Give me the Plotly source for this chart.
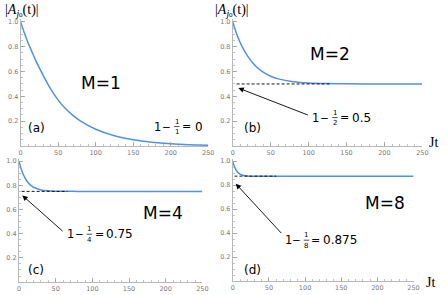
import plotly.graph_objects as go

W, H = 447, 295

# ---- data ----
M_values = [1, 2, 4, 8]
panel_tags = ["(a)", "(b)", "(c)", "(d)"]
eq_values = ["0", "0.5", "0.75", "0.875"]

t_M1 = [0, 5, 10, 15, 20, 30, 40, 50, 60, 70, 80, 100, 125, 150, 175, 200, 225, 250]
y_M1 = [1.0, 0.91, 0.83, 0.76, 0.69, 0.57, 0.46, 0.37, 0.30, 0.245, 0.20, 0.135, 0.082, 0.05, 0.03, 0.018, 0.011, 0.007]

t_M2 = [0, 5, 10, 15, 20, 30, 40, 50, 60, 80, 100, 125, 150, 200, 250]
y_M2 = [1.0, 0.905, 0.83, 0.77, 0.72, 0.645, 0.595, 0.562, 0.541, 0.518, 0.508, 0.503, 0.501, 0.5, 0.5]

t_M4 = [0, 2, 5, 10, 15, 20, 30, 40, 50, 60, 80, 250]
y_M4 = [1.0, 0.955, 0.902, 0.842, 0.806, 0.784, 0.762, 0.755, 0.752, 0.751, 0.75, 0.75]

t_M8 = [0, 1, 2, 4, 6, 8, 10, 15, 20, 30, 40, 250]
y_M8 = [1.0, 0.977, 0.959, 0.931, 0.913, 0.90, 0.892, 0.881, 0.877, 0.875, 0.875, 0.875]

dash_t_start = [None, 5, 3.6, 2.3]
dash_t_end = [None, 130, 66, 60]
dash_level = [0.0, 0.5, 0.75, 0.875]

# arrow heads / tails in data units
arrow_head_t = [None, 7.4, 4.5, 4.1]
arrow_head_y = [None, 0.467, 0.717, 0.812]
arrow_tail_t = [None, 101, 61.6, 68.9]
arrow_tail_y = [None, 0.245, 0.41, 0.388]

x_ticks = [0, 50, 100, 150, 200, 250]
y_ticks = [0.2, 0.4, 0.6, 0.8, 1.0]

series_t = [t_M1, t_M2, t_M4, t_M8]
series_y = [y_M1, y_M2, y_M4, y_M8]

# ---- layout geometry (pixels) ----
def px(x):
    return x / W

def py(y):
    return 1 - y / H

x_domains = [(19, 210), (235, 428), (17.3, 204), (235, 419)]
y_domains = [(145.5, 18.5), (145.5, 18.5), (282, 158.3), (281, 158.3)]

BLUE = "#5190e8"
AX = "#b8b8b8"
TICKC = "#9a9a9a"
LAB = "#7a7a7a"
SANS = "DejaVu Sans"
SERIF = "Liberation Serif"

fig = go.Figure()
layout = dict(width=W, height=H, autosize=False,
              margin=dict(l=0, r=0, t=0, b=0),
              paper_bgcolor="white", plot_bgcolor="white",
              showlegend=False)

for i in range(4):
    sfx = "" if i == 0 else str(i + 1)
    xa, ya = "x" + sfx, "y" + sfx
    fig.add_trace(go.Scatter(x=series_t[i], y=series_y[i], mode="lines",
                             line=dict(color=BLUE, width=1.5, shape="spline", smoothing=0.7),
                             xaxis=xa, yaxis=ya, hoverinfo="skip"))
    if dash_t_start[i] is not None:
        fig.add_trace(go.Scatter(x=[dash_t_start[i], dash_t_end[i]],
                                 y=[dash_level[i], dash_level[i]], mode="lines",
                                 line=dict(color="black", width=0.9, dash="3px,2px"),
                                 xaxis=xa, yaxis=ya, hoverinfo="skip"))
    xd, yd = x_domains[i], y_domains[i]
    layout["xaxis" + sfx] = dict(
        domain=[px(xd[0]), px(xd[1])], range=[0, 250], anchor=ya,
        showgrid=False, zeroline=False, showline=True, linecolor=AX, linewidth=1,
        tickmode="array", tickvals=x_ticks, ticks="inside", ticklen=4, tickcolor=TICKC,
        tickwidth=0.8, tickfont=dict(family=SANS, size=6.5, color=LAB),
        minor=dict(tickmode="linear", tick0=0, dtick=10, ticks="inside", ticklen=2,
                   tickcolor=TICKC, tickwidth=0.6),
        fixedrange=True)
    layout["yaxis" + sfx] = dict(
        domain=[py(yd[0]), py(yd[1])], range=[0, 1.02], anchor=xa,
        showgrid=False, zeroline=False, showline=True, linecolor=AX, linewidth=1,
        tickmode="array", tickvals=y_ticks, tickformat=".1f", ticks="inside", ticklen=4,
        tickcolor=TICKC, tickwidth=0.8, tickfont=dict(family=SANS, size=6.5, color=LAB),
        minor=dict(tickmode="linear", tick0=0, dtick=0.05, ticks="inside", ticklen=2,
                   tickcolor=TICKC, tickwidth=0.6),
        fixedrange=True)

annotations = []
shapes = []

def txt(x, y, s, size, family=SANS, xanchor="center", yanchor="middle", color="black"):
    annotations.append(dict(x=px(x), y=py(y), xref="paper", yref="paper", text=s,
                            showarrow=False, xanchor=xanchor, yanchor=yanchor,
                            font=dict(family=family, size=size, color=color)))

# M labels
m_pos = [(101, 82), (334, 53), (164, 213), (390, 203)]
for i in range(4):
    txt(m_pos[i][0], m_pos[i][1], "M=%d" % M_values[i], 17)

# panel tags
tag_pos = [(35, 127), (255, 127), (35, 270), (255, 270)]
for i in range(4):
    txt(tag_pos[i][0], tag_pos[i][1], panel_tags[i], 12)

# equations 1 - 1/M = value
eq_one_x = [158.5, 319.5, 70, 291.5]
eq_minus_x = [167, 328, 79, 299.5]
eq_frac_x = [178, 339, 89, 310]
eq_eq_x = [187.5, 348.5, 99.5, 319.5]
eq_val_x = [194, 354, 104, 325]
eq_cy = [126, 117, 234, 240]
for i in range(4):
    cy = eq_cy[i]
    txt(eq_one_x[i], cy, "1", 11.5)
    txt(eq_minus_x[i], cy, "−", 10.5)
    fx = eq_frac_x[i]
    txt(fx, cy - 5, "1", 7)
    txt(fx, cy + 5.5, str(M_values[i]), 7)
    shapes.append(dict(type="line", xref="paper", yref="paper",
                       x0=px(fx - 2.8), x1=px(fx + 2.8), y0=py(cy), y1=py(cy),
                       line=dict(color="black", width=0.7)))
    txt(eq_eq_x[i], cy, "=", 11)
    txt(eq_val_x[i], cy, eq_values[i], 12, xanchor="left")

# arrows
for i in range(1, 4):
    sfx = str(i + 1)
    annotations.append(dict(x=arrow_head_t[i], y=arrow_head_y[i],
                            ax=arrow_tail_t[i], ay=arrow_tail_y[i],
                            xref="x" + sfx, yref="y" + sfx,
                            axref="x" + sfx, ayref="y" + sfx,
                            showarrow=True, arrowhead=2, arrowsize=1.2, arrowwidth=0.9,
                            arrowcolor="black", text=""))

# axis titles
ytitle = ("|<i>A</i><sub><i>j</i><span style='font-size:7px'>0</span></sub>(t)|")
txt(1, 10, ytitle, 14, family=SERIF, xanchor="left")
txt(215, 10, ytitle, 14, family=SERIF, xanchor="left")
txt(446, 142, "Jt", 14, family=SERIF, xanchor="right")
txt(443, 282, "Jt", 14, family=SERIF, xanchor="right")

layout["annotations"] = annotations
layout["shapes"] = shapes
fig.update_layout(**layout)
fig.write_html("out.html",
               config={"displayModeBar": False, "staticPlot": True},
               post_script="document.body.style.margin='0';document.body.style.padding='0';")
